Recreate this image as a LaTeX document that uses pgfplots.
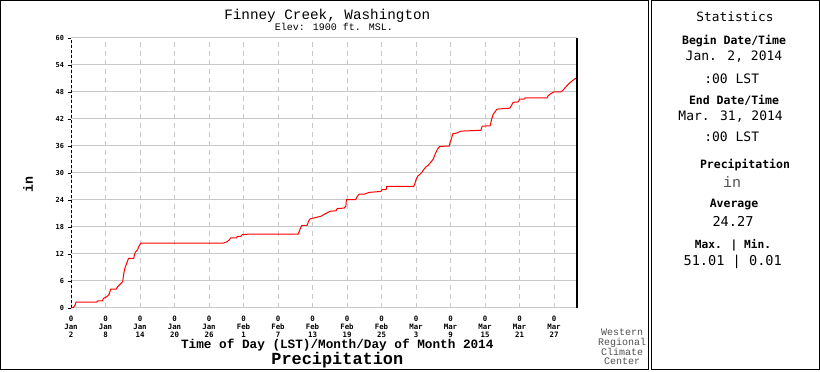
\documentclass[border=0pt]{standalone}
\usepackage{fontspec}
\usepackage{pgfplots}
\pgfplotsset{compat=1.18}
\setmainfont{DejaVu Sans}
\newfontfamily\courf{Liberation Mono}
\newfontfamily\dvm{DejaVu Sans Mono}
\definecolor{gridgray}{RGB}{200,200,200}
\definecolor{wrccgray}{RGB}{80,80,80}
\begin{document}
\begin{tikzpicture}
\fill[white] (0pt,0pt) rectangle (820pt,370pt);
\draw[black, line width=1.3pt] (0.65pt,0.65pt) rectangle (648.3pt,369.35pt);
\draw[black, line width=1.3pt] (651.7pt,0.65pt) rectangle (819.35pt,369.35pt);
\begin{axis}[
  at={(71pt,62pt)}, anchor=south west,
  scale only axis, width=506pt, height=270pt,
  xmin=0, xmax=88, ymin=0, ymax=60,
  xtick={0,6,...,84},
  xticklabels={{0\\Jan\\2},{0\\Jan\\8},{0\\Jan\\14},{0\\Jan\\20},{0\\Jan\\26},{0\\Feb\\1},{0\\Feb\\7},{0\\Feb\\13},{0\\Feb\\19},{0\\Feb\\25},{0\\Mar\\3},{0\\Mar\\9},{0\\Mar\\15},{0\\Mar\\21},{0\\Mar\\27}},
  ytick={0,6,...,60},
  /pgf/number format/assume math mode=true,
  xticklabel style={font=\dvm\bfseries\fontsize{7.4}{8}\selectfont, align=center, yshift=-0.5pt},
  yticklabel style={font=\dvm\bfseries\fontsize{6.9}{7}\selectfont},
  ytick pos=left,
  tick align=outside,
  major tick length=3.5pt,
  xtick style={draw=none},
  ytick style={black, line width=0.8pt},
  separate axis lines,
  x axis line style={draw=gridgray, line width=1pt},
  y axis line style={draw=black, line width=1pt, dash pattern=on 3pt off 2pt},
  xmajorgrids, ymajorgrids,
  x grid style={gridgray, line width=1pt, dash pattern=on 5pt off 4pt},
  y grid style={gridgray, line width=1pt},
  clip=false,
]
\addplot[red, line width=1pt, mark=none] coordinates {
(0,0) (0.4,0.15) (0.7,0.6) (0.87,1.33) (4.5,1.33) (4.6,1.6) (5.5,1.6) (5.6,2.1)
(6.2,2.5) (6.5,2.8) (6.7,3.3) (6.9,4.2) (7.85,4.2) (8.1,4.7) (8.4,5.1) (8.8,5.6)
(9.0,5.9) (9.1,7.0) (9.3,8.5) (9.5,9.3) (9.7,10.0) (10.0,11.0) (10.9,11.0)
(11.05,11.9) (11.2,12.4) (11.6,13.0) (11.8,13.7) (12.15,14.4) (26.4,14.4)
(27.1,14.7) (27.5,15.1) (27.8,15.6) (28.8,15.6) (28.9,15.9) (29.5,15.9)
(29.8,16.3) (30.8,16.4) (39.5,16.4) (39.8,17.4) (40.1,18.3) (41.1,18.4)
(41.3,19.3) (41.6,19.8) (42.2,20.0) (43.5,20.4) (43.9,20.7) (44.3,21.0)
(45.1,21.5) (46.1,21.6) (46.3,22.1) (47.5,22.2) (47.8,22.6) (47.9,24.1)
(49.5,24.1) (49.8,24.8) (50.1,25.3) (51.0,25.3) (51.9,25.7) (53.9,25.9)
(54.1,26.3) (54.8,26.3) (54.9,27.0) (59.6,27.0) (59.8,27.6) (60.0,28.5)
(60.3,29.3) (60.6,29.6) (61.0,30.1) (61.3,30.7) (61.7,31.3) (62.1,31.7)
(62.7,32.6) (63.0,33.1) (63.4,34.4) (63.7,35.2) (64.1,35.9) (65.8,36.0)
(65.9,36.7) (66.2,37.8) (66.4,38.7) (67.1,38.9) (67.8,39.3) (71.3,39.5)
(71.5,40.4) (72.9,40.5) (73.1,41.7) (73.4,43.0) (73.8,43.7) (74.1,44.2)
(76.3,44.4) (76.6,45.0) (76.9,45.7) (77.8,45.8) (78.0,46.4) (78.8,46.4)
(79.0,46.7) (82.8,46.7) (83.0,47.2) (83.4,47.6) (84.0,48.0) (85.2,48.0)
(85.5,48.3) (85.9,48.9) (86.4,49.6) (86.8,50.1) (87.3,50.6) (87.7,51.0) (88.0,51.01)
};
\draw[black, line width=1.6pt] (rel axis cs:1,0) -- (rel axis cs:1,1);
\end{axis}
% titles
\node[font=\courf\fontsize{14.3}{16}\selectfont] at (327.3pt,354.5pt) {Finney Creek, Washington};
\node[font=\courf\fontsize{10}{11}\selectfont] at (333.8pt,343.3pt) {Elev: 1900 ft. MSL.};
\node[font=\courf\bfseries\fontsize{12.7}{14}\selectfont] at (337.3pt,25pt) {Time of Day (LST)/Month/Day of Month 2014};
\node[font=\courf\bfseries\fontsize{16.9}{18}\selectfont] at (337.3pt,10pt) {Precipitation};
\node[font=\courf\bfseries\fontsize{13.3}{14}\selectfont, rotate=90] at (28pt,185pt) {in};
\node[font=\courf\fontsize{10}{9.6}\selectfont, text=wrccgray, align=center] at (622pt,23pt) {Western\\Regional\\Climate\\Center};
% statistics panel
\node[font=\dvm\fontsize{12.8}{14}\selectfont] at (735pt,353.3pt) {Statistics};
\node[font=\dvm\bfseries\fontsize{11.5}{13}\selectfont] at (734pt,329.3pt) {Begin Date/Time};
\node[font=\dvm\fontsize{13}{14}\selectfont] at (734pt,313.3pt) {Jan. 2, 2014};
\node[font=\dvm\fontsize{13}{14}\selectfont] at (731.7pt,291.7pt) {:00 LST};
\node[font=\dvm\bfseries\fontsize{11.5}{13}\selectfont] at (734pt,270pt) {End Date/Time};
\node[font=\dvm\fontsize{13}{14}\selectfont] at (730.6pt,253.3pt) {Mar. 31, 2014};
\node[font=\dvm\fontsize{13}{14}\selectfont] at (731.7pt,233.3pt) {:00 LST};
\node[font=\dvm\bfseries\fontsize{11.5}{13}\selectfont] at (745pt,205pt) {Precipitation};
\node[font=\courf\fontsize{15}{16}\selectfont, text=wrccgray] at (732pt,188.3pt) {in};
\node[font=\dvm\bfseries\fontsize{11.5}{13}\selectfont] at (734pt,165pt) {Average};
\node[font=\dvm\fontsize{13.6}{15}\selectfont] at (733pt,148.3pt) {24.27};
\node[font=\dvm\bfseries\fontsize{11.2}{13}\selectfont] at (733pt,125pt) {Max. | Min.};
\node[font=\dvm\fontsize{13.6}{15}\selectfont] at (732.7pt,108.3pt) {51.01 | 0.01};
\end{tikzpicture}
\end{document}
